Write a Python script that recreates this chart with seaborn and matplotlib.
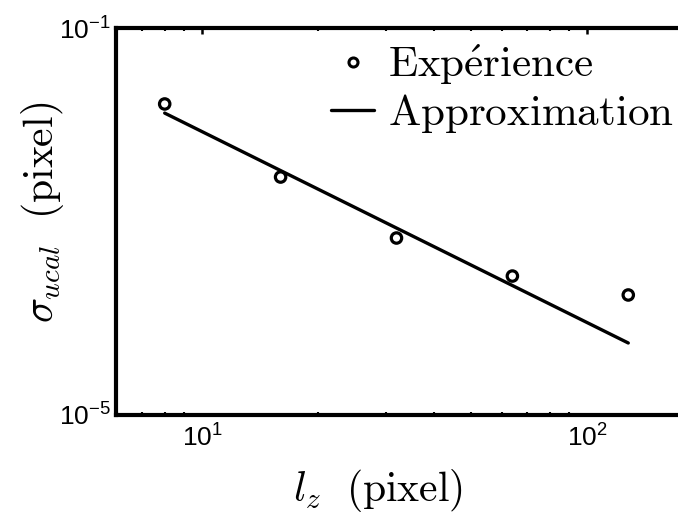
import numpy as np
import pandas as pd
import matplotlib
matplotlib.use("Agg")
import matplotlib.pyplot as plt
from matplotlib.ticker import LogLocator, NullLocator, FixedLocator, FuncFormatter
from matplotlib.lines import Line2D
import seaborn as sns

# Measured calibration error versus window size
lz_exp = [8, 16, 32, 64, 128]
sigma_exp = [1.64e-2, 2.88e-3, 6.75e-4, 2.73e-4, 1.74e-4]

# Power-law approximation (end points of the fitted line)
lz_fit = [8, 128]
sigma_fit = [1.32e-2, 5.55e-5]

sns.set_theme(style="white")
plt.rcParams["font.family"] = ["Liberation Sans", "DejaVu Sans"]
plt.rcParams["mathtext.fontset"] = "custom"
plt.rcParams["mathtext.rm"] = "Liberation Sans"
plt.rcParams["mathtext.it"] = "Liberation Sans:italic"
plt.rcParams["mathtext.bf"] = "Liberation Sans:bold"

W, H = 678, 520
fig = plt.figure(figsize=(W / 100, H / 100), dpi=100)
left, right, top, bottom = 116, 690, 28, 415
ax = fig.add_axes([left / W, 1 - bottom / H, (right - left) / W, (bottom - top) / H])

exp_df = pd.DataFrame({"lz": lz_exp, "sigma": sigma_exp})
fit_df = pd.DataFrame({"lz": lz_fit, "sigma": sigma_fit})

sns.lineplot(data=fit_df, x="lz", y="sigma", ax=ax, color="black", lw=2.4)
sns.scatterplot(data=exp_df, x="lz", y="sigma", ax=ax, marker="o", s=56,
                facecolor="none", edgecolor="black", linewidth=2.3, zorder=3)

ax.set_xscale("log")
ax.set_yscale("log")

# one decade spans 385 px horizontally
dec_x = 385.0
x10_px = 202
xmin = 10 ** (1 - (x10_px - left) / dec_x)
xmax = 10 ** (1 + (right - x10_px) / dec_x)
ax.set_xlim(xmin, xmax)
ax.set_ylim(1e-5, 1e-1)

ax.xaxis.set_major_locator(FixedLocator([10, 100]))
ax.xaxis.set_minor_locator(LogLocator(base=10, subs=np.arange(2, 10)))
ax.yaxis.set_major_locator(FixedLocator([1e-5, 1e-1]))
ax.yaxis.set_minor_locator(NullLocator())

def sci(v, pos):
    return r"$10^{%d}$" % int(round(np.log10(v)))

ax.xaxis.set_major_formatter(FuncFormatter(sci))
ax.yaxis.set_major_formatter(FuncFormatter(sci))

ax.tick_params(axis="both", which="major", direction="in", length=4, width=1.8,
               labelsize=19, color="black", labelcolor="black", top=True, right=False)
ax.tick_params(axis="x", which="major", pad=7)
ax.tick_params(axis="y", which="major", pad=4, length=0)
ax.tick_params(axis="x", which="minor", direction="in", length=2, width=1.5,
               top=True, bottom=True, color="black")

for side in ["left", "bottom", "top"]:
    ax.spines[side].set_visible(True)
    ax.spines[side].set_linewidth(3)
    ax.spines[side].set_color("black")
ax.spines["right"].set_visible(False)

label_size = 30
ax.set_xlabel(r"$l_z\ \ \mathrm{(pixel)}$", fontsize=label_size, color="black")
ax.set_ylabel(r"$\sigma_{ucal}\ \ \mathrm{(pixel)}$", fontsize=label_size, color="black")
ax.xaxis.label.set_math_fontfamily("cm")
ax.yaxis.label.set_math_fontfamily("cm")
ax.xaxis.label.set_va("center")
ax.yaxis.label.set_va("center")
ax.xaxis.set_label_coords((378 - left) / (right - left), -(490 - bottom) / (bottom - top))
ax.yaxis.set_label_coords(-(116 - 42) / (right - left), (bottom - 212) / (bottom - top))

handles = [
    Line2D([], [], marker="o", linestyle="none", markersize=6.5, markerfacecolor="none",
           markeredgecolor="black", markeredgewidth=2.2),
    Line2D([], [], color="black", lw=2.4),
]
leg = ax.legend(handles, [r"$\mathrm{Exp\acute{e}rience}$", r"$\mathrm{Approximation}$"],
                loc="upper left", bbox_to_anchor=(331 / W, 1 - 43 / H),
                bbox_transform=fig.transFigure, frameon=False, fontsize=31,
                handlelength=1.0, handletextpad=0.32, labelspacing=0.1,
                borderaxespad=0, borderpad=0)
for t in leg.get_texts():
    t.set_math_fontfamily("cm")
    t.set_color("black")

fig.savefig("out.png", dpi=100)
